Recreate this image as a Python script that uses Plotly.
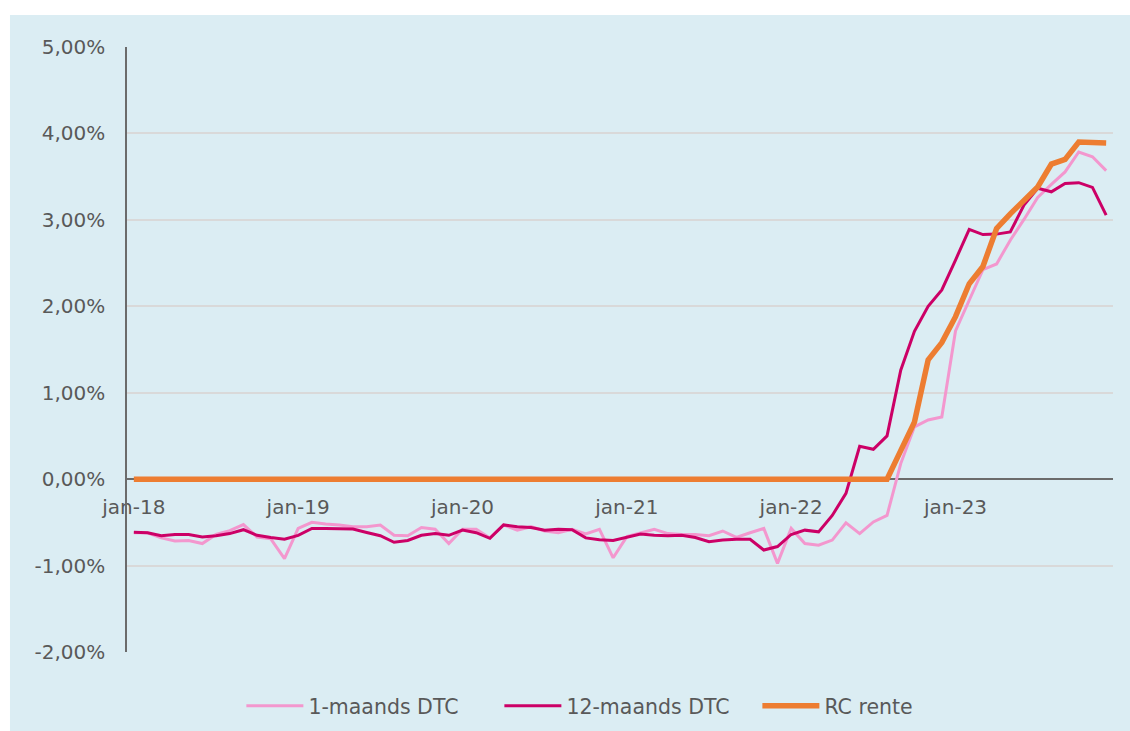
import plotly.graph_objects as go

# Maandlabels jan-18 t/m dec-23
MAANDEN = ["jan", "feb", "mrt", "apr", "mei", "jun", "jul", "aug", "sep", "okt", "nov", "dec"]
JAREN = ["18", "19", "20", "21", "22", "23"]
periodes = [f"{m}-{j}" for j in JAREN for m in MAANDEN]

# Rentes in procenten, per maand
dtc_1m = [
    -0.62, -0.62, -0.68, -0.715, -0.71, -0.745, -0.64, -0.595, -0.525, -0.67, -0.69, -0.92,
    -0.57, -0.50, -0.52, -0.53, -0.55, -0.55, -0.53, -0.65, -0.655, -0.56, -0.58, -0.745,
    -0.58, -0.58, -0.68, -0.53, -0.59, -0.55, -0.60, -0.62, -0.58, -0.635, -0.58, -0.91,
    -0.665, -0.62, -0.58, -0.63, -0.64, -0.64, -0.655, -0.60, -0.675, -0.62, -0.57, -0.975,
    -0.57, -0.745, -0.765, -0.705, -0.505, -0.63, -0.495, -0.42, 0.18, 0.605, 0.685, 0.72,
    1.715, 2.07, 2.425, 2.49, 2.765, 3.005, 3.26, 3.41, 3.555, 3.785, 3.73, 3.57,
]
dtc_12m = [
    -0.615, -0.62, -0.655, -0.64, -0.64, -0.67, -0.655, -0.63, -0.585, -0.65, -0.675, -0.695,
    -0.65, -0.57, -0.57, -0.575, -0.578, -0.617, -0.655, -0.73, -0.71, -0.65, -0.63, -0.65,
    -0.59, -0.62, -0.685, -0.53, -0.55, -0.56, -0.59, -0.58, -0.585, -0.68, -0.70, -0.71,
    -0.675, -0.635, -0.65, -0.655, -0.65, -0.675, -0.725, -0.705, -0.695, -0.695, -0.82, -0.78,
    -0.64, -0.59, -0.61, -0.42, -0.165, 0.38, 0.345, 0.50, 1.26, 1.71, 2.00, 2.19,
    2.535, 2.89, 2.83, 2.835, 2.86, 3.17, 3.365, 3.325, 3.42, 3.43, 3.375, 3.055,
]
rc_rente = [
    0, 0, 0, 0, 0, 0, 0, 0, 0, 0, 0, 0,
    0, 0, 0, 0, 0, 0, 0, 0, 0, 0, 0, 0,
    0, 0, 0, 0, 0, 0, 0, 0, 0, 0, 0, 0,
    0, 0, 0, 0, 0, 0, 0, 0, 0, 0, 0, 0,
    0, 0, 0, 0, 0, 0, 0, 0, 0.33, 0.66, 1.38, 1.58,
    1.88, 2.26, 2.46, 2.90, 3.07, 3.23, 3.38, 3.645, 3.70, 3.90, 3.90, 3.89,
]

x_labels = ["jan-18", "jan-19", "jan-20", "jan-21", "jan-22", "jan-23"]
y_ticks = [-2, -1, 0, 1, 2, 3, 4, 5]
y_labels = ["-2,00%", "-1,00%", "0,00%", "1,00%", "2,00%", "3,00%", "4,00%", "5,00%"]

ACHTERGROND = "#DBEDF3"
AS_KLEUR = "#6B6B6B"
TEKST = "#595959"

# tickstreepjes op de grenzen tussen de jaren
grenzen = [12 * k - 0.5 for k in range(len(JAREN) + 1)]
nul_positie = 2 / 7  # plek van 0% binnen het plotgebied

fig = go.Figure()
fig.add_trace(go.Scatter(x=periodes, y=dtc_1m, mode="lines", name="1-maands DTC",
                         line=dict(color="#F397CE", width=3)))
fig.add_trace(go.Scatter(x=periodes, y=dtc_12m, mode="lines", name="12-maands DTC",
                         line=dict(color="#CC0066", width=3)))
fig.add_trace(go.Scatter(x=periodes, y=rc_rente, mode="lines", name="RC rente",
                         line=dict(color="#ED7D31", width=5.5)))

tick_as = dict(
    overlaying="x", type="linear", range=[-0.5, 71.5], tickvals=grenzen,
    ticklen=7, tickwidth=1.5, tickcolor=AS_KLEUR, showticklabels=False,
    showgrid=False, showline=False, zeroline=False, anchor="free", position=nul_positie,
)

fig.update_layout(
    template="none",
    width=1130,
    height=731,
    margin=dict(l=127, r=17, t=47, b=79, autoexpand=False),
    paper_bgcolor="white",
    plot_bgcolor=ACHTERGROND,
    font=dict(family="DejaVu Sans", size=20, color=TEKST),
    shapes=[dict(type="rect", xref="paper", yref="paper", x0=-0.1187, x1=1.05,
                 y0=-0.2, y1=1.0529, fillcolor=ACHTERGROND, line=dict(width=0), layer="below")],
    legend=dict(orientation="h", x=0.116, xanchor="left", y=-0.089, yanchor="middle",
                bgcolor="rgba(0,0,0,0)", font=dict(size=20.5, color=TEKST), itemwidth=57,
                entrywidthmode="pixels", entrywidth=186),
    xaxis=dict(type="category", range=[-0.5, 71.5], tickvals=x_labels, ticktext=x_labels,
               ticks="", showgrid=False, showline=True, linecolor=AS_KLEUR, linewidth=1.5,
               zeroline=False, anchor="free", position=nul_positie, layer="below traces",
               ticklabelstandoff=10),
    xaxis2=dict(ticks="outside", side="bottom", **tick_as),
    xaxis3=dict(ticks="outside", side="top", **tick_as),
    yaxis=dict(range=[-2, 5], tickvals=y_ticks, ticktext=y_labels, ticks="",
               showgrid=True, gridcolor="#D9D9D9", gridwidth=1.5, showline=True,
               linecolor=AS_KLEUR, linewidth=1.5, zeroline=False, ticklabelstandoff=16),
)

# geen paginamarge, zodat de figuur het hele venster vult
fig.write_html("out.html", config={"displayModeBar": False},
               post_script="document.body.style.margin = '0px';")
